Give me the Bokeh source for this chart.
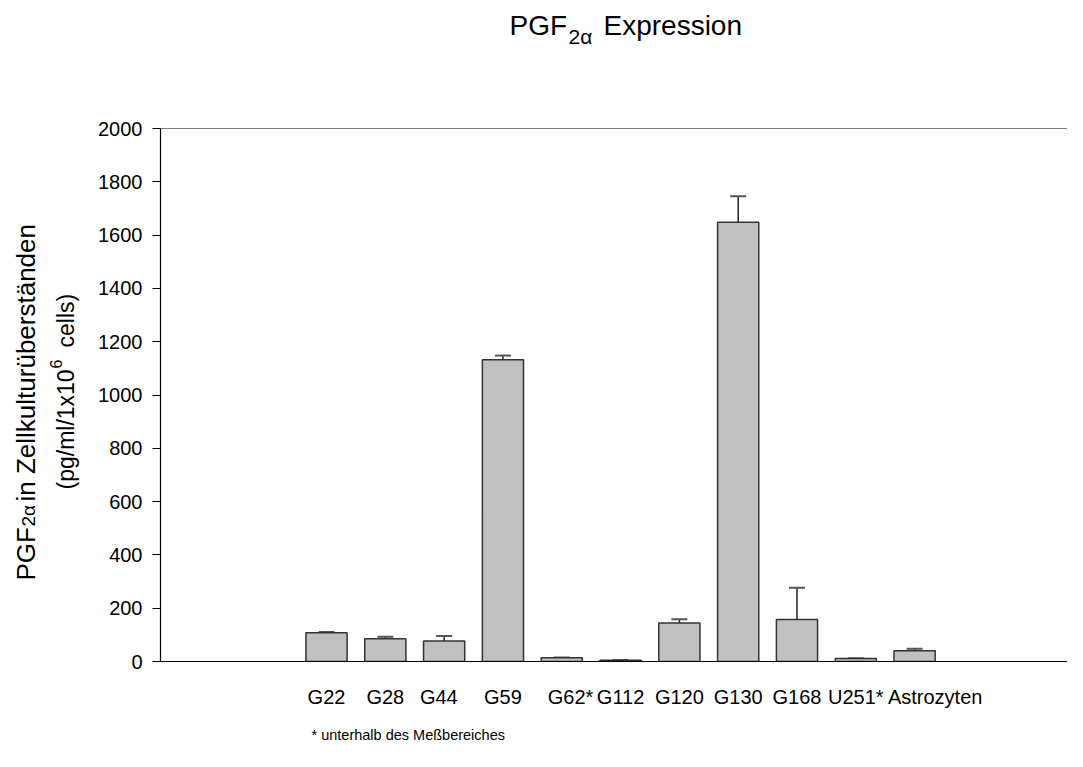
import math
from bokeh.plotting import figure
from bokeh.layouts import column, row
from bokeh.models import (ColumnDataSource, Range1d, FixedTicker, Whisker, TeeHead,
                          Span, Label)
from bokeh.embed import file_html
from bokeh.resources import INLINE

# ---- data ----
categories = ["G22", "G28", "G44", "G59", "G62*", "G112", "G120", "G130",
              "G168", "U251*", "Astrozyten"]
means = [108, 85, 77, 1132, 14, 5, 144, 1648, 158, 11, 40]
errors = [3, 8, 19, 16, 1, 1, 15, 98, 119, 1, 8]
y_ticks = [0, 200, 400, 600, 800, 1000, 1200, 1400, 1600, 1800, 2000]

FONT = "Liberation Sans"
W, H = 1067, 751
TOP_H, LEFT_W, FOOT_H = 100, 85, 36
FRAME_TOP, FRAME_LEFT, FRAME_H = 128, 160, 533
FRAME_BOTTOM = FRAME_TOP + FRAME_H
positions = list(range(len(categories)))
upper = [m + e for m, e in zip(means, errors)]

# small horizontal nudges of a few tick labels (layout only)
label_nudge = {"G44": -0.09, "G62*": 0.15, "Astrozyten": 0.35}
label_pos = [x + label_nudge.get(c, 0.0) for x, c in zip(positions, categories)]


def text_panel(width, height):
    f = figure(width=width, height=height, output_backend="svg", toolbar_location=None,
               x_range=Range1d(0, width), y_range=Range1d(0, height),
               x_axis_location=None, y_axis_location=None, min_border=0)
    f.title.visible = False
    f.outline_line_color = None
    f.grid.visible = False
    return f


def lab(f, text, sx, sy, size, angle=0.0):
    f.add_layout(Label(x=sx, y=sy, x_units="screen", y_units="screen", text=text,
                       angle=angle, text_font=FONT, text_font_size=size,
                       text_color="black", text_align="left",
                       text_baseline="alphabetic"))


# ---- title panel ----
tp = text_panel(W, TOP_H)
lab(tp, "PGF", 509, 75, "28px")
lab(tp, "2\u03b1", 568, 64, "21px")
lab(tp, "Expression", 603, 75, "28px")

# ---- main chart ----
MAIN_H = H - TOP_H - FOOT_H
src = ColumnDataSource(dict(x=positions, top=means, upper=upper, cat=categories))
p = figure(width=W - LEFT_W, height=MAIN_H, output_backend="svg", toolbar_location=None,
           x_range=Range1d(-2.823, 12.60), y_range=Range1d(0, 2000),
           min_border_left=FRAME_LEFT - LEFT_W, min_border_right=0,
           min_border_top=FRAME_TOP - TOP_H,
           min_border_bottom=MAIN_H - (FRAME_TOP - TOP_H) - FRAME_H)
p.title.visible = False
p.outline_line_color = None
p.xgrid.visible = False
p.ygrid.visible = False

p.vbar(x="x", top="top", bottom=0, width=0.70, source=src,
       fill_color="#c0c0c0", line_color="#333333", line_width=1.5)
p.add_layout(Whisker(base="x", lower="top", upper="upper", source=src,
                     dimension="height", line_color="#222222", line_width=1.5,
                     upper_head=TeeHead(size=16, line_color="#555555", line_width=2),
                     lower_head=None))
p.add_layout(Span(location=2000, dimension="width", line_color="black", line_width=1.2))

xa = p.xaxis[0]
xa.ticker = FixedTicker(ticks=label_pos)
xa.major_label_overrides = {x: c for x, c in zip(label_pos, categories)}
xa.major_tick_out = 0
xa.major_tick_in = 0
xa.minor_tick_out = 0
xa.minor_tick_in = 0
xa.major_label_standoff = 24
xa.major_label_text_font = FONT
xa.major_label_text_font_size = "20px"
xa.major_label_text_color = "black"
xa.axis_line_color = "black"
xa.axis_line_width = 1.2

ya = p.yaxis[0]
ya.ticker = FixedTicker(ticks=y_ticks)
ya.major_tick_out = 8
ya.major_tick_in = 0
ya.minor_tick_out = 0
ya.minor_tick_in = 0
ya.major_label_standoff = 10
ya.major_label_text_font = FONT
ya.major_label_text_font_size = "20px"
ya.major_label_text_color = "black"
ya.axis_line_color = "black"
ya.axis_line_width = 1.2
ya.major_tick_line_color = "black"

# ---- y label panel (its frame is aligned with the chart frame) ----
yp = text_panel(LEFT_W, MAIN_H)
R = math.pi / 2
lab(yp, "PGF", 25, FRAME_BOTTOM - 580, "26px", angle=R)
lab(yp, "2\u03b1", 28, FRAME_BOTTOM - 526, "19px", angle=R)
lab(yp, "in Zellkultur\u00fcberst\u00e4nden", 25, FRAME_BOTTOM - 501, "26px", angle=R)
lab(yp, "(pg/ml/1x10", 65, FRAME_BOTTOM - 489, "23px", angle=R)
lab(yp, "6", 55, FRAME_BOTTOM - 368, "16px", angle=R)
lab(yp, "cells)", 65, FRAME_BOTTOM - 347, "23px", angle=R)

# ---- footnote panel ----
fp = text_panel(W, FOOT_H)
lab(fp, "* unterhalb des Me\u00dfbereiches", 311, 17, "14.5px")

layout = column(tp, row(yp, p), fp)
open("out.html", "w").write(file_html(layout, INLINE))
